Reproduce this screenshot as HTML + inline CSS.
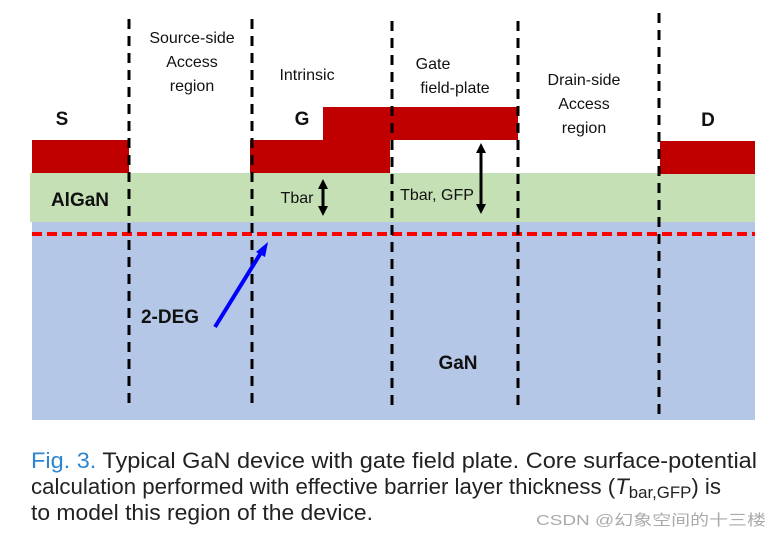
<!DOCTYPE html>
<html><head><meta charset="utf-8"><style>
html,body{margin:0;padding:0;background:#fff;}
svg{display:block;}
.l{font-family:"Liberation Sans","DejaVu Sans",sans-serif;font-size:16px;fill:#111;text-anchor:middle;}
.b{font-family:"Liberation Sans","DejaVu Sans",sans-serif;font-size:19px;font-weight:bold;fill:#111;text-anchor:middle;}
.c{font-family:"Liberation Sans",sans-serif;font-size:22.5px;fill:#222;}
</style></head><body>
<svg width="782" height="538" viewBox="0 0 782 538" xmlns="http://www.w3.org/2000/svg">
<defs>
<marker id="ah" markerWidth="10" markerHeight="10" refX="5" refY="5" orient="auto-start-reverse" markerUnits="userSpaceOnUse"><path d="M0,0 L10,5 L0,10 z" fill="#000"/></marker>
</defs>
<rect x="32" y="221" width="723" height="199" fill="#b4c7e7"/>
<rect x="30" y="173" width="725" height="49" fill="#c5e0b4"/>
<rect x="32" y="140" width="97" height="33" fill="#c00000"/>
<rect x="250" y="140" width="140" height="33" fill="#c00000"/>
<rect x="323" y="107" width="195" height="33" fill="#c00000"/>
<rect x="660" y="141" width="95" height="33" fill="#c00000"/>
<line x1="32" y1="234" x2="755" y2="234" stroke="#ff0000" stroke-width="4" stroke-dasharray="10,5"/>
<g stroke="#000" stroke-width="3" stroke-dasharray="10,7">
<line x1="129" y1="19" x2="129" y2="404"/>
<line x1="252" y1="19" x2="252" y2="404"/>
<line x1="392" y1="21" x2="392" y2="406"/>
<line x1="518" y1="21" x2="518" y2="406"/>
<line x1="659" y1="13" x2="659" y2="420"/>
</g>
<line x1="323" y1="184" x2="323" y2="211" stroke="#000" stroke-width="3" marker-start="url(#ah)" marker-end="url(#ah)"/>
<line x1="481" y1="148" x2="481" y2="209" stroke="#000" stroke-width="3" marker-start="url(#ah)" marker-end="url(#ah)"/>
<line x1="215" y1="327" x2="262" y2="251" stroke="#0000ff" stroke-width="4"/>
<path d="M268,242 L256,252 L265,257 z" fill="#0000ff"/>
<text class="l" x="192" y="43">Source-side</text>
<text class="l" x="192" y="67">Access</text>
<text class="l" x="192" y="91">region</text>
<text class="l" x="307" y="80">Intrinsic</text>
<text class="l" x="433" y="69">Gate</text>
<text class="l" x="455" y="93">field-plate</text>
<text class="l" x="584" y="85">Drain-side</text>
<text class="l" x="584" y="109">Access</text>
<text class="l" x="584" y="133">region</text>
<text class="b" x="62" y="125">S</text>
<text class="b" x="302" y="125">G</text>
<text class="b" x="708" y="126">D</text>
<text class="b" x="80" y="206">AlGaN</text>
<text class="l" x="297" y="203">Tbar</text>
<text class="l" x="437" y="200">Tbar, GFP</text>
<text class="b" x="170" y="323">2-DEG</text>
<text class="b" x="458" y="369">GaN</text>
<text class="c" x="31" y="468" textLength="726" lengthAdjust="spacingAndGlyphs"><tspan fill="#2e86d1">Fig. 3.</tspan>   Typical GaN device with gate field plate. Core surface-potential</text>
<text class="c" x="31" y="494" textLength="690" lengthAdjust="spacingAndGlyphs">calculation performed with effective barrier layer thickness (<tspan font-style="italic">T</tspan><tspan font-size="17" dy="4">bar,GFP</tspan><tspan dy="-4">) is</tspan></text>
<text class="c" x="31" y="520" textLength="342" lengthAdjust="spacingAndGlyphs">to model this region of the device.</text>
<text x="536" y="525" font-family="'Liberation Sans','Noto Sans CJK SC',sans-serif" font-size="15" fill="#aaa" textLength="230" lengthAdjust="spacingAndGlyphs">CSDN @幻象空间的十三楼</text>
</svg>
</body></html>
